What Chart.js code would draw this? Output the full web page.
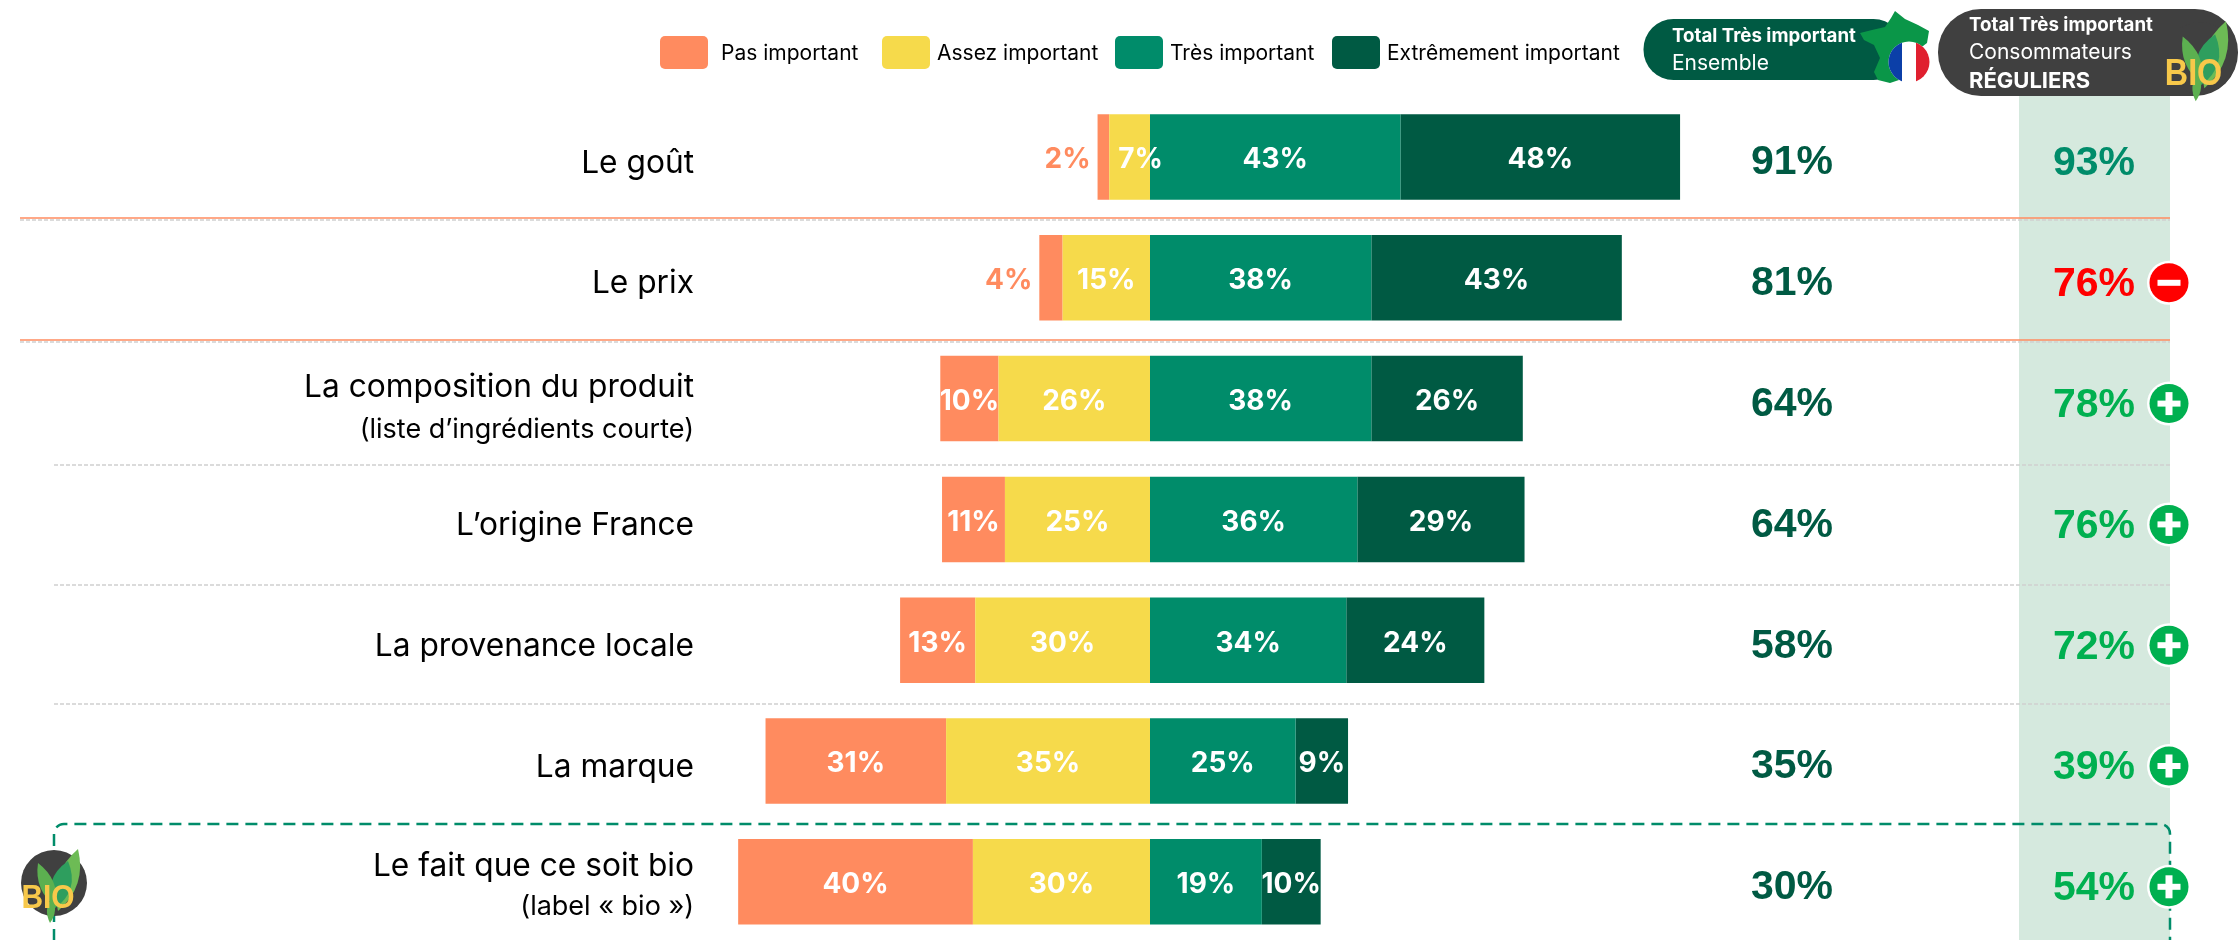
<!DOCTYPE html>
<html lang="fr"><head><meta charset="utf-8">
<style>html,body{margin:0;padding:0;background:#fff;overflow:hidden;width:2238px;height:940px}canvas{display:block}</style>
<script src="https://cdn.jsdelivr.net/npm/chart.js@4"></script></head>
<body><canvas id="c" width="2238" height="946"></canvas>
<script>
const categories=["Le goût","Le prix","La composition du produit","L’origine France","La provenance locale","La marque","Le fait que ce soit bio"];
const subLabels=[null,null,"(liste d’ingrédients courte)",null,null,null,"(label « bio »)"];
const pasImportant=[2,4,10,10.8,12.9,31,40.3];
const assezImportant=[7,15,26,24.9,30,35,30.4];
const tresImportant=[43,38,38,35.6,33.7,25,19.2];
const extremementImportant=[48,43,26,28.7,23.7,9,10.1];
const totalEnsemble=[91,81,64,64,58,35,30];
const totalBio=[93,76,78,76,72,39,54];
const trendBio=["","-","+","+","+","+","+"];
const legendItems=["Pas important","Assez important","Très important","Extrêmement important"];
const ORANGE="#FF8B5F",YELLOW="#F6DA4B",GREEN="#008C6A",DARK="#005A43",BAND="#D5E9DE",PLUS="#00B050",MINUS="#FF0000",SANS="Inter, sans-serif",NUM="'Liberation Sans', Arial, sans-serif";

function txt(c,s,x,y,font,color,align="left"){c.font=font;c.fillStyle=color;c.textAlign=align;c.textBaseline="middle";c.fillText(s,x,y);}
function rr(c,x,y,w,h,r){c.beginPath();c.roundRect(x,y,w,h,r);}
function leaf(c,x0,y0,x1,y1,b,color){const mx=(x0+x1)/2,my=(y0+y1)/2,dx=y1-y0,dy=x0-x1,l=Math.hypot(dx,dy),nx=dx/l*b,ny=dy/l*b;
 c.beginPath();c.moveTo(x0,y0);c.quadraticCurveTo(mx+nx,my+ny,x1,y1);c.quadraticCurveTo(mx-nx,my-ny,x0,y0);c.fillStyle=color;c.fill();}
function bio(c,cx,cy,s){
 c.save();c.translate(cx,cy);c.scale(s,s);
 c.beginPath();c.arc(0,0,33,0,7);c.fillStyle="#404040";c.fill();
 leaf(c,4,28,24,-34,20,"#6DBB55");leaf(c,0,26,14,-22,20,"#2E9E5E");leaf(c,2,24,-16,-20,14,"#5CB050");leaf(c,-4,40,-2,14,8,"#5CB050");
 c.translate(-6,16);c.scale(.88,1);
 c.font="bold 34px 'Liberation Sans Narrow','Liberation Sans'";c.fillStyle="#F7C84A";c.textAlign="center";c.textBaseline="middle";c.fillText("BIO",0,0);
 c.restore();}
function badge(c,y,t,col){c.beginPath();c.arc(2169,y,22,0,7);c.fillStyle="#fff";c.fill();c.beginPath();c.arc(2169,y,19.5,0,7);c.fillStyle=col;c.fill();
 c.fillStyle="#fff";c.fillRect(2157.5,y-3,23,6);if(t==="+")c.fillRect(2165.5,y-11.5,7,23);}

const deco={id:"deco",
 beforeDatasetsDraw(ch){const c=ch.ctx;c.save();
  c.fillStyle=BAND;c.fillRect(2019,90,151,850);
  c.lineWidth=1.5;c.strokeStyle="#CFCFCF";c.setLineDash([4,2]);
  [[20,220],[20,342],[54,465],[54,585],[54,704]].forEach(([x,y])=>{c.beginPath();c.moveTo(x,y);c.lineTo(2170,y);c.stroke();});
  c.setLineDash([]);c.strokeStyle=ORANGE;c.lineWidth=1.5;
  [218,340].forEach(y=>{c.beginPath();c.moveTo(20,y);c.lineTo(2170,y);c.stroke();});
  c.restore();},
 afterDatasetsDraw(ch){const c=ch.ctx,ys=ch.scales.y;c.save();
  ch.data.datasets.forEach((d,i)=>{ch.getDatasetMeta(i).data.forEach((b,k)=>{
    const v=Math.round(Math.abs(d.data[k])),y=b.y+3,s=v+"%",f="bold 28px "+SANS;
    if(d.label==="Pas important"&&v<5){txt(c,s,Math.min(b.x,b.base)-7,y,f,ORANGE,"right");return;}
    let x=(b.x+b.base)/2; if(v===7)x+=11;
    txt(c,s,x,y,f,"#fff","center");});});
  categories.forEach((n,i)=>{const y=ys.getPixelForValue(i);
    if(subLabels[i]){const o=i===2?[-11,31]:[-15,25];txt(c,n,694,y+o[0],"31.7px "+SANS,"#000","right");txt(c,subLabels[i],694,y+o[1],"27px "+SANS,"#000","right");}
    else txt(c,n,694,y+6,"31.7px "+SANS,"#000","right");
    txt(c,totalEnsemble[i]+"%",1792,y+6,"bold 41px "+NUM,DARK,"center");
    const t=trendBio[i],col=t==="-"?MINUS:t==="+"?PLUS:GREEN,yb=y+7;
    txt(c,totalBio[i]+"%",2094,yb,"bold 41px "+NUM,col,"center");
  });
  c.strokeStyle=GREEN;c.lineWidth=2.5;c.setLineDash([12,7]);c.beginPath();c.moveTo(54,960);c.lineTo(54,834);c.arcTo(54,824,64,824,10);c.lineTo(2160,824);c.arcTo(2170,824,2170,834,10);c.lineTo(2170,960);c.stroke();c.setLineDash([]);
  categories.forEach((n,i)=>{if(trendBio[i])badge(c,ys.getPixelForValue(i)+5,trendBio[i],trendBio[i]==="-"?MINUS:PLUS);});
  bio(c,54,883,1);
  const sw=[[ORANGE,660,721],[YELLOW,882,937],[GREEN,1115,1170],[DARK,1332,1387]];
  legendItems.forEach((s,i)=>{c.fillStyle=sw[i][0];rr(c,sw[i][1],36,48,33,5);c.fill();txt(c,s,sw[i][2],54,"21px "+SANS,"#000");});
  c.fillStyle=DARK;rr(c,1643.5,19,260,61,30);c.fill();
  c.beginPath();[[1860,33],[1872,30],[1885,27],[1891,18],[1895,11],[1905,19],[1918,25],[1929,31],[1927,43],[1915,52],[1915,70],[1905,78],[1890,83],[1878,80],[1874,72],[1880,58],[1874,45],[1864,40]].forEach((p,i)=>i?c.lineTo(p[0],p[1]):c.moveTo(p[0],p[1]));c.closePath();c.fillStyle="#0A9648";c.fill();
  c.save();c.beginPath();c.arc(1909,62,20.5,0,7);c.clip();c.fillStyle="#fff";c.fillRect(1888,41,42,42);c.fillStyle="#0B3FA8";c.fillRect(1888,41,14,42);c.fillStyle="#E0202F";c.fillRect(1916,41,14,42);c.restore();
  txt(c,"Total Très important",1672,36,"bold 18.7px "+SANS,"#fff");txt(c,"Ensemble",1672,64,"21px "+SANS,"#fff");
  c.fillStyle="#404040";rr(c,1938,9,300,87,43);c.fill();
  bio(c,2200,58,1.08);
  txt(c,"Total Très important",1969,25,"bold 18.7px "+SANS,"#fff");txt(c,"Consommateurs",1969,53,"21px "+SANS,"#fff");txt(c,"RÉGULIERS",1969,81,"bold 22px "+SANS,"#fff");
  c.restore();}
};
new Chart(document.getElementById("c"),{type:"bar",plugins:[deco],
 data:{labels:categories,datasets:[
  {label:"Assez important",data:assezImportant.map(v=>-v),backgroundColor:YELLOW},
  {label:"Pas important",data:pasImportant.map(v=>-v),backgroundColor:ORANGE},
  {label:"Très important",data:tresImportant,backgroundColor:GREEN},
  {label:"Extrêmement important",data:extremementImportant,backgroundColor:DARK}]},
 options:{indexAxis:"y",responsive:false,animation:false,
  layout:{padding:{top:96.6,bottom:3.8,left:0,right:0}},
  datasets:{bar:{barPercentage:0.708,categoryPercentage:1}},
  plugins:{legend:{display:false},tooltip:{enabled:false}},
  scales:{x:{stacked:true,display:false,min:-197.42,max:186.78},y:{stacked:true,display:false}}}});
</script></body></html>
